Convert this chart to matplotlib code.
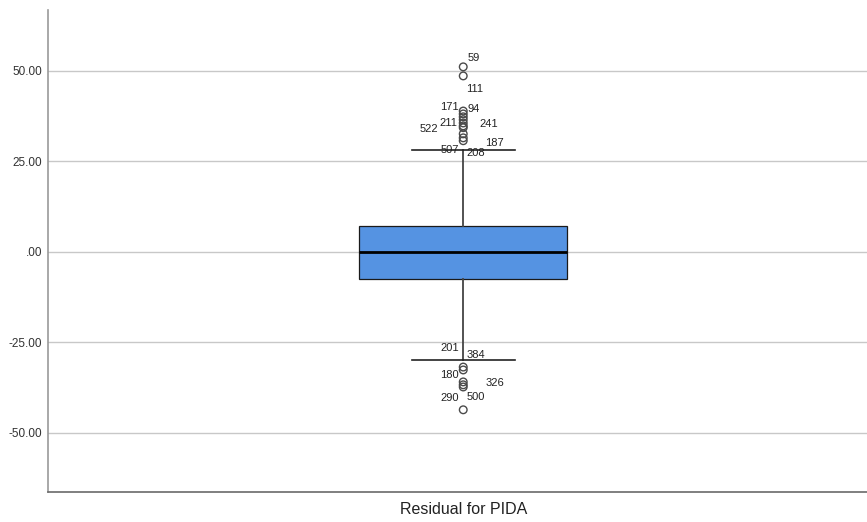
import matplotlib.pyplot as plt

plt.rcParams['font.family'] = ['Liberation Sans', 'DejaVu Sans']

# Box summary of the residuals
q1, median, q3 = -7.5, 0.0, 7.2
whisker_low, whisker_high = -29.8, 28.2

# Outliers and their case numbers
outlier_vals = [51.1, 48.6, 38.9, 38.1, 37.3, 36.5, 35.6, 34.8, 34.3,
                32.6, 31.5, 30.7,
                -31.8, -32.6, -35.9, -36.7, -37.3, -43.6]
case_labels = ['59', '111', '171', '94', '211', '522', '241', '187', '507', '208',
               '201', '384', '180', '326', '290', '500']
# which outlier each case label sits beside, and offset in pixels
label_anchor = [0, 1, 2, 2, 4, 6, 5, 9, 11, 11, 12, 12, 13, 15, 16, 16]
label_offset = [(4, 9), (3, -13), (-23, 4), (4, 2), (-24, -6), (-44, -6), (16, -4),
                (22, -9), (-23, -9), (3, -12), (-23, 19), (3, 12), (-23, -5),
                (22, 2), (-23, -11), (3, -10)]

yticks = [-50, -25, 0, 25, 50]
ytick_labels = ['-50.00', '-25.00', '.00', '25.00', '50.00']
category = 'Residual for PIDA'

fig = plt.figure(figsize=(8.67, 5.22), dpi=100)
ax = fig.add_axes([48 / 867, 30 / 522, 819 / 867, 482 / 522])

stats = [{'med': median, 'q1': q1, 'q3': q3,
          'whislo': whisker_low, 'whishi': whisker_high, 'fliers': []}]
ax.bxp(stats, positions=[0], widths=0.508, patch_artist=True,
       boxprops=dict(facecolor='#5593e2', edgecolor='#1a1a1a', linewidth=0.9),
       medianprops=dict(color='#000000', linewidth=2.0),
       whiskerprops=dict(color='#444444', linewidth=1.3),
       capprops=dict(color='#222222', linewidth=1.2),
       capwidths=0.252, zorder=3)

ax.scatter([0] * len(outlier_vals), outlier_vals, s=30, facecolors='none',
           edgecolors='#4a4a4a', linewidths=1.0, zorder=4)

for txt, idx, (dx, dy) in zip(case_labels, label_anchor, label_offset):
    ax.annotate(txt, xy=(0, outlier_vals[idx]), xytext=(dx, dy),
                textcoords='offset pixels', fontsize=8, color='#222222',
                ha='left', va='center', zorder=5)

ax.set_xlim(-1.014, 0.986)
ax.set_ylim(-66.3, 66.8)
ax.set_yticks(yticks)
ax.set_yticklabels(ytick_labels)
ax.set_xticks([0])
ax.set_xticklabels([category])
ax.tick_params(axis='y', length=0, labelsize=8.5, colors='#333333', pad=4)
ax.tick_params(axis='x', length=0, labelsize=11.5, colors='#222222', pad=7)

ax.grid(axis='y', color='#c8c8c8', linewidth=1.0)
ax.set_axisbelow(True)
for side in ('top', 'right'):
    ax.spines[side].set_visible(False)
ax.spines['left'].set_color('#9a9a9a')
ax.spines['left'].set_linewidth(1.2)
ax.spines['bottom'].set_color('#6a6a6a')
ax.spines['bottom'].set_linewidth(1.2)

fig.savefig('out.png', dpi=100)
